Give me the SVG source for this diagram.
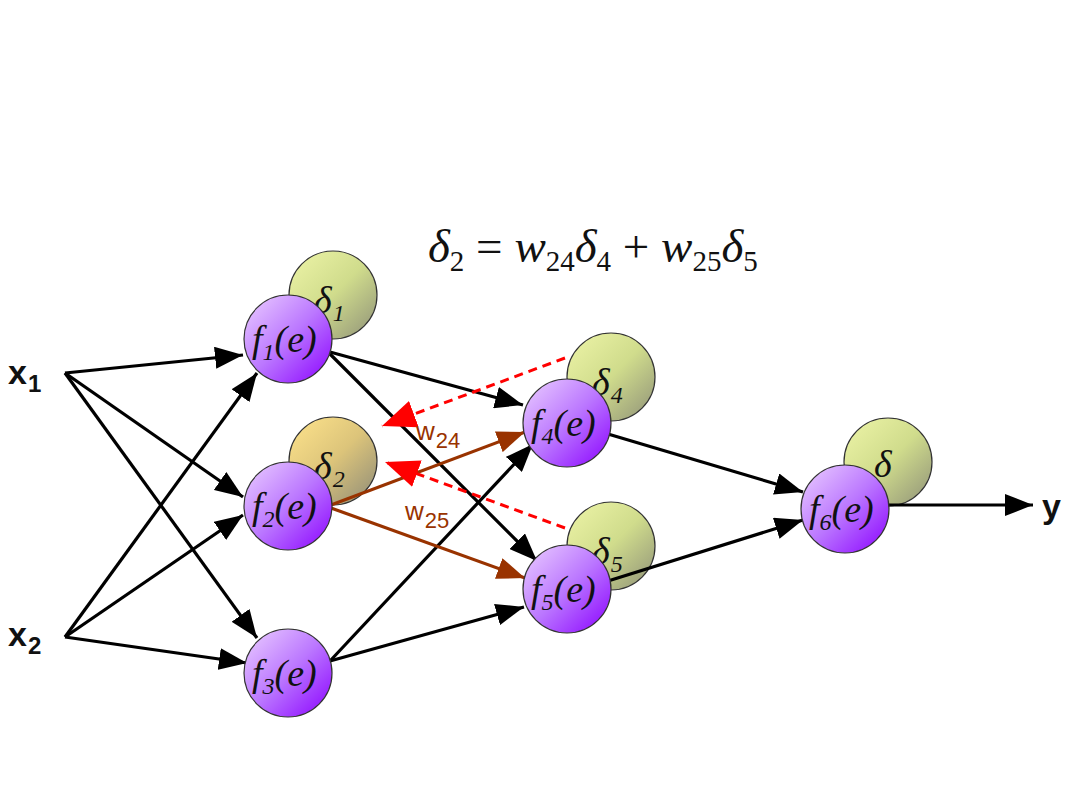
<svg xmlns="http://www.w3.org/2000/svg" width="1080" height="810" viewBox="0 0 1080 810">
<defs>
<linearGradient id="gp" x1="0" y1="0" x2="1" y2="1">
<stop offset="0" stop-color="#ecd0ff"/>
<stop offset="0.5" stop-color="#bb77ff"/>
<stop offset="1" stop-color="#8a00ff"/>
</linearGradient>
<linearGradient id="gd" x1="0" y1="0" x2="1" y2="1">
<stop offset="0" stop-color="#eef5a8"/>
<stop offset="0.5" stop-color="#d0dc8c"/>
<stop offset="1" stop-color="#8e9078"/>
</linearGradient>
<linearGradient id="gd2" x1="0" y1="0" x2="1" y2="1">
<stop offset="0" stop-color="#ffe48c"/>
<stop offset="0.5" stop-color="#dcc47a"/>
<stop offset="1" stop-color="#8c8a78"/>
</linearGradient>
<marker id="ab" markerUnits="userSpaceOnUse" markerWidth="30" markerHeight="22" refX="28" refY="11" orient="auto">
<path d="M0,0 L28,11 L0,22 Z" fill="#000"/>
</marker>
<marker id="abr" markerUnits="userSpaceOnUse" markerWidth="30" markerHeight="22" refX="28" refY="11" orient="auto">
<path d="M0,0 L28,11 L0,22 Z" fill="#993300"/>
</marker>
<marker id="ar" markerUnits="userSpaceOnUse" markerWidth="36" markerHeight="28" refX="34" refY="14" orient="auto">
<path d="M0,0 L34,14 L0,28 Z" fill="#ff0000"/>
</marker>
</defs>
<style>
.n{fill:url(#gp);stroke:#333;stroke-width:1.2}
.d{fill:url(#gd);stroke:#333;stroke-width:1.2}
.d2{fill:url(#gd2);stroke:#333;stroke-width:1.2}
.e{stroke:#000;stroke-width:3.2;fill:none;marker-end:url(#ab)}
.eb{stroke:#993300;stroke-width:3.2;fill:none;marker-end:url(#abr)}
.er{stroke:#ff0000;stroke-width:3;fill:none;stroke-dasharray:9,6;marker-end:url(#ar)}
.ft{font-family:"Liberation Serif",serif;font-style:italic;font-size:38px;fill:#111}
.fs{font-family:"Liberation Serif",serif;font-style:italic;font-size:24px;fill:#111}
.io{font-family:"Liberation Sans",Arial,sans-serif;font-weight:bold;font-size:34px;fill:#111}
.ios{font-family:"Liberation Sans",Arial,sans-serif;font-weight:bold;font-size:24px;fill:#111}
.w{font-family:"Liberation Sans",Arial,sans-serif;font-size:26px;fill:#993300}
.ws{font-family:"Liberation Sans",Arial,sans-serif;font-size:22px;fill:#993300}
.eq{font-family:"Liberation Serif",serif;font-size:47px;fill:#111}
</style>
<rect width="1080" height="810" fill="#fff"/>

<g id="deltas">
<g id="d1"><circle class="d" cx="333" cy="295" r="44"/><text class="ft" x="314" y="313">δ<tspan class="fs" dx="1" dy="8">1</tspan></text></g>
<g id="d2"><circle class="d2" cx="333" cy="461" r="44"/><text class="ft" x="314" y="479">δ<tspan class="fs" dx="1" dy="8">2</tspan></text></g>
<g id="d4"><circle class="d" cx="611" cy="377" r="44"/><text class="ft" x="592" y="395">δ<tspan class="fs" dx="1" dy="8">4</tspan></text></g>
<g id="d5"><circle class="d" cx="611" cy="546" r="44"/><text class="ft" x="592" y="564">δ<tspan class="fs" dx="1" dy="8">5</tspan></text></g>
<g id="d6"><circle class="d" cx="888" cy="462" r="44"/><text class="ft" x="874" y="477">δ</text></g>
</g>

<g id="connectors">
<line class="e" x1="65" y1="373" x2="243" y2="355"/>
<line class="e" x1="65" y1="373" x2="243" y2="497"/>
<line class="e" x1="65" y1="373" x2="257" y2="638"/>
<line class="e" x1="65" y1="637" x2="257" y2="373"/>
<line class="e" x1="65" y1="637" x2="243" y2="515"/>
<line class="e" x1="65" y1="637" x2="247" y2="663"/>
<line class="e" x1="330" y1="352" x2="523" y2="405"/>
<line class="e" x1="330" y1="354" x2="537" y2="561"/>
<line class="e" x1="330" y1="661" x2="533" y2="444"/>
<line class="e" x1="330" y1="661" x2="524" y2="607"/>
<line class="e" x1="608" y1="434" x2="803" y2="492"/>
<line class="e" x1="608" y1="581" x2="803" y2="520"/>
<line class="e" x1="888" y1="505" x2="1033" y2="505"/>
<line class="eb" x1="331" y1="505" x2="525" y2="432"/>
<line class="eb" x1="331" y1="508" x2="525" y2="578"/>
<line class="er" x1="565" y1="358" x2="382" y2="426"/>
<line class="er" x1="565" y1="528" x2="385" y2="462"/>
</g>

<g id="f1"><circle class="n" cx="288" cy="339" r="44"/><text class="ft" x="252" y="352">f<tspan class="fs" dy="8">1</tspan><tspan dy="-8">(e)</tspan></text></g>
<g id="f2"><circle class="n" cx="288" cy="506" r="44"/><text class="ft" x="252" y="519">f<tspan class="fs" dy="8">2</tspan><tspan dy="-8">(e)</tspan></text></g>
<g id="f3"><circle class="n" cx="288" cy="673" r="44"/><text class="ft" x="252" y="686">f<tspan class="fs" dy="8">3</tspan><tspan dy="-8">(e)</tspan></text></g>
<g id="f4"><circle class="n" cx="567" cy="423" r="44"/><text class="ft" x="531" y="436">f<tspan class="fs" dy="8">4</tspan><tspan dy="-8">(e)</tspan></text></g>
<g id="f5"><circle class="n" cx="567" cy="589" r="44"/><text class="ft" x="531" y="602">f<tspan class="fs" dy="8">5</tspan><tspan dy="-8">(e)</tspan></text></g>
<g id="f6"><circle class="n" cx="845" cy="509" r="44"/><text class="ft" x="809" y="522">f<tspan class="fs" dy="8">6</tspan><tspan dy="-8">(e)</tspan></text></g>

<g id="labels">
<text class="io" x="8" y="384">x<tspan class="ios" dx="1" dy="8">1</tspan></text>
<text class="io" x="8" y="646">x<tspan class="ios" dx="1" dy="8">2</tspan></text>
<text class="io" x="1042" y="518">y</text>
<text class="w" x="416" y="440">w<tspan class="ws" dx="1" dy="8">24</tspan></text>
<text class="w" x="405" y="520">w<tspan class="ws" dx="1" dy="8">25</tspan></text>
<text class="eq" x="428" y="262"><tspan font-style="italic">δ</tspan><tspan font-size="29" dy="9">2</tspan><tspan dy="-9"> = </tspan><tspan font-style="italic">w</tspan><tspan font-size="29" dy="9">24</tspan><tspan font-style="italic" dy="-9">δ</tspan><tspan font-size="29" dy="9">4</tspan><tspan dy="-9"> + </tspan><tspan font-style="italic">w</tspan><tspan font-size="29" dy="9">25</tspan><tspan font-style="italic" dy="-9">δ</tspan><tspan font-size="29" dy="9">5</tspan></text>
</g>
</svg>
